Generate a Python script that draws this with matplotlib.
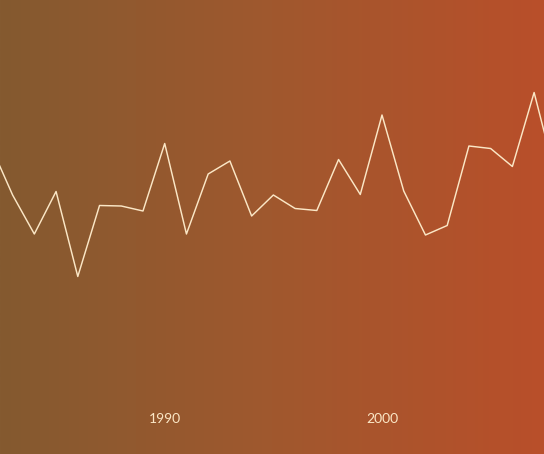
import matplotlib.pyplot as plt
import numpy as np
from matplotlib.colors import LinearSegmentedColormap

years = list(range(1982, 2009))
# values (arbitrary units, higher = up)
values = [3.08, 2.10, 1.32, 2.17, 0.47, 1.89, 1.88, 1.78, 3.13, 1.32, 2.52,
          2.78, 1.68, 2.10, 1.83, 1.79, 2.81, 2.11, 3.70, 2.18, 1.30, 1.49,
          3.08, 3.03, 2.67, 4.15, 2.45]
tick_years = [1990, 2000]
tick_labels = ["1990", "2000"]

bg_left = "#845a30"
bg_right = "#b94f2a"
line_color = "#fbe7c6"

fig = plt.figure(figsize=(5.44, 4.54), dpi=100)
ax = fig.add_axes([0, 0, 1, 1])

# horizontal gradient background
cmap = LinearSegmentedColormap.from_list("bg", [bg_left, "#a0582e", bg_right])
grad = np.linspace(0, 1, 256).reshape(1, -1)
ax.imshow(grad, aspect="auto", cmap=cmap, extent=[0, 1, 0, 1],
          transform=ax.transAxes, zorder=0)

ax.plot(years, values, color=line_color, lw=1.05, zorder=2)

ax.set_xlim(1982.42, 2007.455)
# pixel 0 (top) -> 6.0, pixel 454 (bottom) -> -3.08
ax.set_ylim(6.0 - 454 / 50.0, 6.0)

for yr, lab in zip(tick_years, tick_labels):
    ax.text(yr, 0.076, lab, transform=ax.get_xaxis_transform(),
            ha="center", va="center", color=line_color, fontsize=10,
            family=["Lato", "DejaVu Sans"])

ax.set_xticks([])
ax.set_yticks([])
for s in ax.spines.values():
    s.set_visible(False)

fig.savefig("out.png", dpi=100)
